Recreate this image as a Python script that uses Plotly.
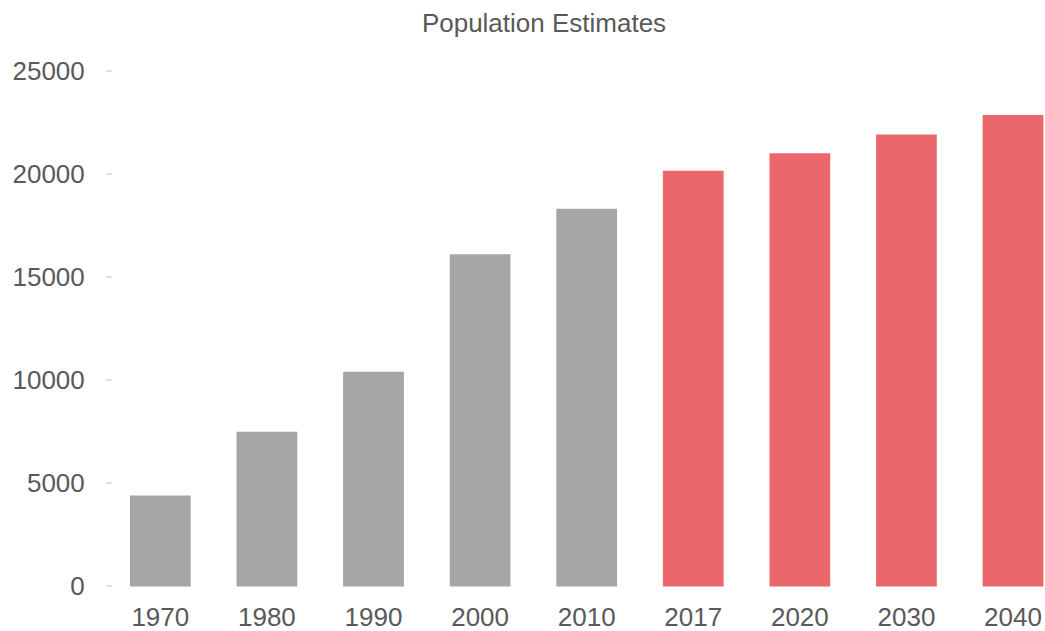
import plotly.graph_objects as go

years = ["1970", "1980", "1990", "2000", "2010", "2017", "2020", "2030", "2040"]
population = [4400, 7500, 10400, 16100, 18300, 20150, 21000, 21900, 22850]
bar_colors = ["#a6a6a6"] * 5 + ["#ea686b"] * 4
y_ticks = [0, 5000, 10000, 15000, 20000, 25000]

fig = go.Figure(go.Bar(x=years, y=population, marker_color=bar_colors,
                       marker_line_width=0, width=0.57, cliponaxis=False))

font = dict(family="Liberation Sans, Arial, sans-serif", size=26, color="#595959")
fig.update_layout(
    width=1045, height=631,
    margin=dict(l=113, r=0, t=70, b=44),
    plot_bgcolor="white", paper_bgcolor="white",
    title=dict(text="Population Estimates", x=544/1045, xanchor="center",
               y=1 - 23/631, yanchor="middle", yref="container",
               font=dict(family="Liberation Sans, Arial, sans-serif", size=26, color="#595959")),
    font=font,
    showlegend=False,
)
fig.update_xaxes(type="category", range=[-0.444, 8.3], showgrid=False, showline=False,
                 ticks="", tickfont=font, ticklabelstandoff=12, automargin=False)
fig.update_yaxes(range=[-30, 25030], tickvals=y_ticks, ticktext=[str(v) for v in y_ticks],
                 showgrid=False, zeroline=False, showline=False,
                 ticks="outside", ticklen=6, tickwidth=2, tickcolor="#e0e0e0",
                 tickfont=font, ticklabelstandoff=16, automargin=False)

fig.write_html("out.html")
